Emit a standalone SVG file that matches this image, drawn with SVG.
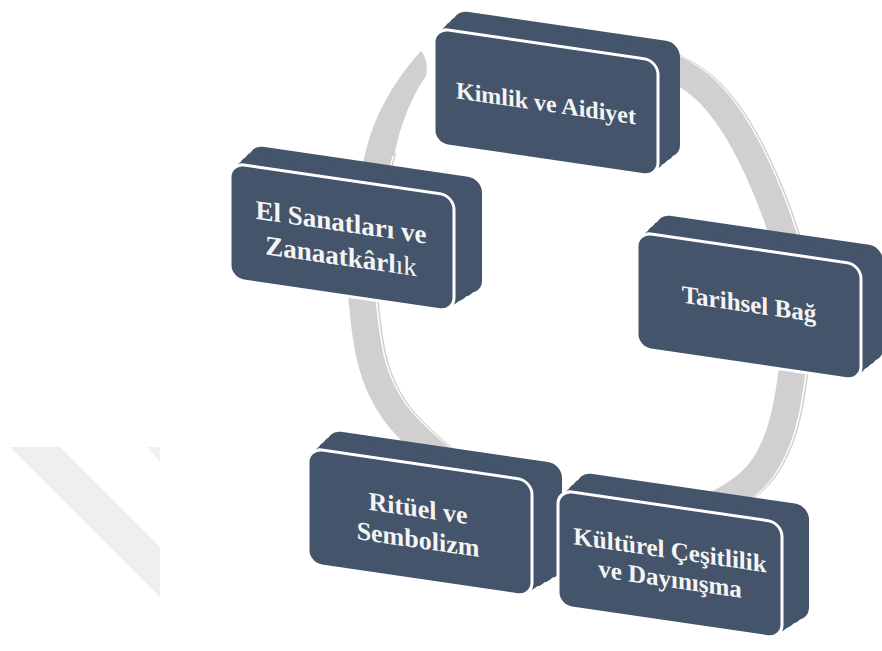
<svg xmlns="http://www.w3.org/2000/svg" xmlns:xlink="http://www.w3.org/1999/xlink" width="882" height="651" viewBox="0 0 882 651">
<style>
.back{fill:#44546a}
.front{fill:#44546a;stroke:#ffffff;stroke-width:3}
.lbl{font-family:"Liberation Serif","Times New Roman",serif;font-weight:bold;fill:#f4f4f4;text-anchor:middle}
.ring{fill:none;stroke-linecap:butt;stroke-width:27}
</style>
<defs>
<rect id="face" x="0" y="0" width="224" height="116" rx="14"/>
<path id="ringPath" d="M380,150 C369,190.3 357.5,253.8 362,300 C366.5,346.2 370.7,388.7 407,427 C443.3,465.3 523,520.7 580,530 C637,539.3 713.2,513.8 749,483 C784.8,452.2 790.3,389.3 795,345 C799.7,300.7 792.8,260.3 777,217 C761.2,173.7 735.3,114.2 700,85 C664.7,55.8 610.3,46.5 565,42"/>
</defs>
<rect width="882" height="651" fill="#ffffff"/>
<g id="watermark">
<polygon points="10,447 60,447 160,547 160,597" fill="#efefef"/>
<polygon points="147,447 160,447 160,462" fill="#f1f1f1"/>
</g>
<g id="connectors">
<use xlink:href="#ringPath" class="ring" stroke="#cfcfcf" transform="translate(3,0)"/>
<use xlink:href="#ringPath" class="ring" stroke="#ffffff" transform="translate(1.5,0)"/>
<use xlink:href="#ringPath" class="ring" stroke="#d0d0d0"/>
<path d="M366,152 C373,118 393,82 421,51 C427,58 428,68 426,76 C412,96 401,122 394,156 Z" fill="#d0d0d0"/>
</g>
<g id="n-kimlik" transform="translate(434,28) skewY(8.3)">
<rect class="back" x="19" y="-21" width="227" height="116" rx="14"/>
<rect class="back" x="14.25" y="-15.75" width="226.25" height="116" rx="14"/>
<rect class="back" x="9.5" y="-10.5" width="225.5" height="116" rx="14"/>
<rect class="back" x="4.75" y="-5.25" width="224.75" height="116" rx="14"/>
<use xlink:href="#face" class="front"/>
<text class="lbl" x="112" y="67" font-size="24">Kimlik ve Aidiyet</text>
</g>
<g id="n-el" transform="translate(230,163) skewY(8.3)">
<rect class="back" x="19" y="-21" width="233" height="116" rx="14"/>
<rect class="back" x="14.25" y="-15.75" width="230.75" height="116" rx="14"/>
<rect class="back" x="9.5" y="-10.5" width="228.5" height="116" rx="14"/>
<rect class="back" x="4.75" y="-5.25" width="226.25" height="116" rx="14"/>
<use xlink:href="#face" class="front"/>
<text class="lbl" x="111" y="52" font-size="27">El Sanatları ve</text>
<text class="lbl" x="111" y="86" font-size="27">Zanaatkârl<tspan font-weight="normal">ık</tspan></text>
</g>
<g id="n-tarihsel" transform="translate(637,232) skewY(8.3)">
<rect class="back" x="19" y="-21" width="227" height="116" rx="14"/>
<rect class="back" x="14.25" y="-15.75" width="226.25" height="116" rx="14"/>
<rect class="back" x="9.5" y="-10.5" width="225.5" height="116" rx="14"/>
<rect class="back" x="4.75" y="-5.25" width="224.75" height="116" rx="14"/>
<use xlink:href="#face" class="front"/>
<text class="lbl" x="112" y="64" font-size="25">Tarihsel Bağ</text>
</g>
<g id="n-rituel" transform="translate(308,448) skewY(8.3)">
<rect class="back" x="19" y="-21" width="235" height="116" rx="14"/>
<rect class="back" x="14.25" y="-15.75" width="232.25" height="116" rx="14"/>
<rect class="back" x="9.5" y="-10.5" width="229.5" height="116" rx="14"/>
<rect class="back" x="4.75" y="-5.25" width="226.75" height="116" rx="14"/>
<use xlink:href="#face" class="front"/>
<text class="lbl" x="110" y="53" font-size="26">Ritüel ve</text>
<text class="lbl" x="110" y="84" font-size="26">Sembolizm</text>
</g>
<g id="n-kulturel" transform="translate(558,490) skewY(8.3)">
<rect class="back" x="19" y="-21" width="232" height="116" rx="14"/>
<rect class="back" x="14.25" y="-15.75" width="230" height="116" rx="14"/>
<rect class="back" x="9.5" y="-10.5" width="228" height="116" rx="14"/>
<rect class="back" x="4.75" y="-5.25" width="226" height="116" rx="14"/>
<use xlink:href="#face" class="front"/>
<text class="lbl" x="112" y="52" font-size="25">Kültürel Çeşitlilik</text>
<text class="lbl" x="112" y="81" font-size="25">ve Dayınışma</text>
</g>
</svg>
